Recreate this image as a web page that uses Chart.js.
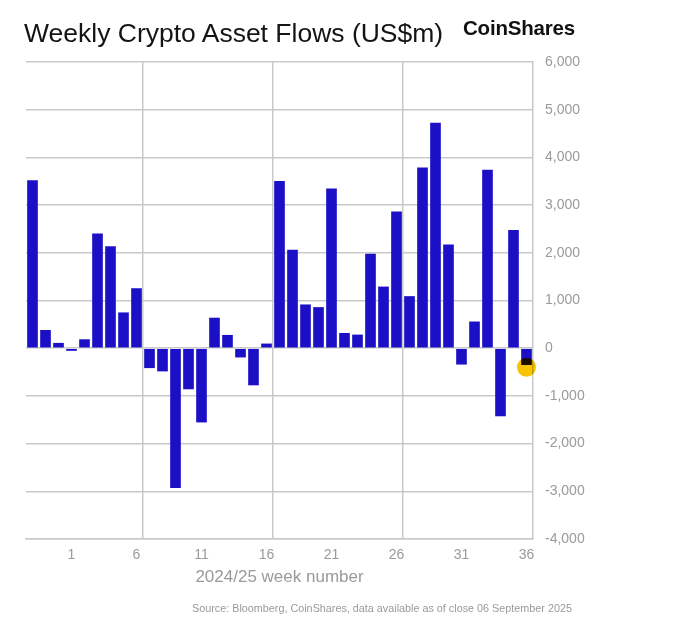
<!DOCTYPE html>
<html>
<head>
<meta charset="utf-8">
<title>Weekly Crypto Asset Flows</title>
<script src="https://cdn.jsdelivr.net/npm/chart.js@4.4.1/dist/chart.umd.min.js"></script>
<style>
  html, body { margin: 0; padding: 0; background: #fff; }
  #wrap { position: relative; width: 682px; height: 624px; overflow: hidden; }
  #chart { position: absolute; left: 0; top: 0; }
  .txt { position: absolute; white-space: nowrap; line-height: 1; font-family: "Liberation Sans", Arial, sans-serif; }
  #title { left: 24px; top: 19.6px; font-size: 26.5px; color: #141414; }
  #logo { left: 463px; top: 18px; font-size: 20.5px; font-weight: bold; color: #111; letter-spacing: -0.2px; }
  #source { left: 192px; top: 603px; font-size: 10.8px; color: #9a9a9a; }
</style>
</head>
<body>
<div id="wrap">
  <canvas id="chart" width="682" height="624"></canvas>
  <div class="txt" id="title">Weekly Crypto Asset Flows (US$m)</div>
  <div class="txt" id="logo">CoinShares</div>
  <div class="txt" id="source">Source: Bloomberg, CoinShares, data available as of close 06 September 2025</div>
</div>
<script>
// week numbers, last weeks of 2024 then 2025
const weeks = ['50', '51', '52', '1', '2', '3', '4', '5', '6', '7', '8', '9', '10',
  '11', '12', '13', '14', '15', '16', '17', '18', '19', '20', '21', '22', '23', '24',
  '25', '26', '27', '28', '29', '30', '31', '32', '33', '34', '35', '36'];

// weekly flows, US$m
const flows = [3520, 382, 111, -55, 187, 2403, 2139, 750, 1257, -417, -486, -2931, -861,
  -1556, 639, 278, -194, -778, 97, 3507, 2063, 917, 861, 3347, 319, 285, 1979,
  1292, 2868, 1091, 3790, 4727, 2175, -343, 559, 3741, -1427, 2476, -352];

// yellow marker on the latest week
const highlight = [null, null, null, null, null, null, null, null, null, null, null, null, null,
  null, null, null, null, null, null, null, null, null, null, null, null, null, null,
  null, null, null, null, null, null, null, null, null, null, null, -400];

const shownWeeks = ['1', '6', '11', '16', '21', '26', '31', '36'];
const yTicks = [-4000, -3000, -2000, -1000, 0, 1000, 2000, 3000, 4000, 5000, 6000];
const dividerIdx = [9, 19, 29];   // vertical lines between weeks

const GRID = '#c9c9c9';
const LABEL = '#9a9a9a';
const FONT = '"Liberation Sans", Arial, sans-serif';

// marker is drawn in multiply mode, so where it overlaps the bar it goes dark
const multiplyMarker = {
  id: 'multiplyMarker',
  beforeDatasetDraw(chart, args) {
    if (args.meta.type === 'line') { chart.ctx.save(); chart.ctx.globalCompositeOperation = 'multiply'; }
  },
  afterDatasetDraw(chart, args) {
    if (args.meta.type === 'line') chart.ctx.restore();
  }
};

new Chart(document.getElementById('chart'), {
  type: 'bar',
  data: {
    labels: weeks,
    datasets: [
      {
        type: 'bar',
        data: flows,
        backgroundColor: '#1b10c6',
        borderWidth: 0,
        categoryPercentage: 1,
        barPercentage: 0.82,
        order: 2
      },
      {
        type: 'line',
        data: highlight,
        showLine: false,
        pointRadius: 9.5,
        pointBackgroundColor: '#f6c400',
        pointBorderWidth: 0,
        clip: false,
        order: 1
      }
    ]
  },
  options: {
    responsive: false,
    animation: false,
    layout: { padding: { left: 26, top: 62, right: 0, bottom: 0 } },
    plugins: { legend: { display: false }, tooltip: { enabled: false } },
    scales: {
      x: {
        grid: {
          offset: true,
          drawTicks: false,
          lineWidth: 1.5,
          color: ctx => dividerIdx.includes(ctx.index) ? GRID : 'rgba(0,0,0,0)'
        },
        border: { display: true, color: GRID, width: 1.5 },
        ticks: {
          autoSkip: false,
          maxRotation: 0,
          minRotation: 0,
          padding: 8,
          color: LABEL,
          font: { family: FONT, size: 14 },
          callback: (v, i) => shownWeeks.includes(weeks[i]) ? weeks[i] : ''
        },
        title: {
          display: true,
          text: '2024/25 week number',
          color: LABEL,
          font: { family: FONT, size: 17 },
          padding: { top: 0, bottom: 36 }
        },
        afterFit: s => { s.height = 85; }
      },
      y: {
        position: 'right',
        min: yTicks[0],
        max: yTicks[yTicks.length - 1],
        afterBuildTicks: s => { s.ticks = yTicks.map(v => ({ value: v })); },
        grid: { drawTicks: false, color: GRID, lineWidth: 1.5 },
        border: { display: true, color: GRID, width: 1.5 },
        ticks: {
          padding: 12,
          color: LABEL,
          font: { family: FONT, size: 14 },
          callback: v => v.toLocaleString('en-US')
        },
        afterFit: s => { s.width = 149; }
      }
    }
  },
  plugins: [multiplyMarker]
});
</script>
</body>
</html>
